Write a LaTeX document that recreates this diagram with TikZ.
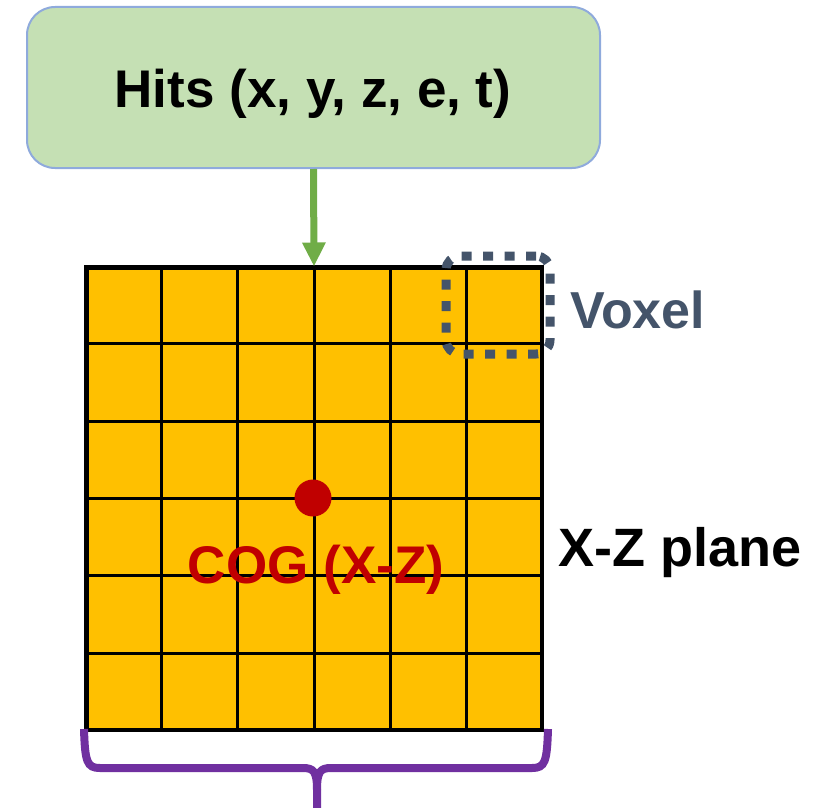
\documentclass[tikz,border=0pt]{standalone}
\usepackage{fontspec}
\setmainfont{Liberation Sans}
\usetikzlibrary{calc,arrows.meta}
\definecolor{boxgreen}{HTML}{C5E0B4}
\definecolor{boxblue}{HTML}{8FAADC}
\definecolor{arrgreen}{HTML}{70AD47}
\definecolor{gridfill}{HTML}{FFC000}
\definecolor{slate}{HTML}{44546A}
\definecolor{cogred}{HTML}{C00000}
\definecolor{bracepurple}{HTML}{7030A0}
\begin{document}
\begin{tikzpicture}[x=1pt,y=-1pt,
  lbl/.style={font=\fontsize{53}{60}\selectfont\bfseries, inner sep=0},
  hitsbox/.style={draw=boxblue, line width=2, fill=boxgreen, rounded corners=28, minimum width=573, minimum height=161, inner sep=0},
  gridbox/.style={draw=black, line width=3, fill=gridfill, minimum width=454, minimum height=461, inner sep=0},
  gridline/.style={draw=black, line width=3},
  voxelbox/.style={draw=slate, line width=9, dash pattern=on 10pt off 11.5pt, rounded corners=14, minimum width=104, minimum height=98, inner sep=0},
  bracepath/.style={draw=bracepurple, line width=8, line cap=butt}
]
\useasboundingbox (0,0) rectangle (814,808);
% Hits box
\node[hitsbox] (hits) at (313.5,87.5) {};
\node[lbl, anchor=base] (hitstxt) at (313,107) {Hits (x, y, z, e, t)};
% Grid
\node[gridbox] (grid) at (314,498.5) {};
\foreach \i in {1,...,5}{
  \draw[gridline] ($(grid.north west)!\i/6!(grid.north east)$) -- ($(grid.south west)!\i/6!(grid.south east)$);
  \draw[gridline] ($(grid.north west)!\i/6!(grid.south west)$) -- ($(grid.north east)!\i/6!(grid.south east)$);
}
\draw[gridline] (grid.north west) rectangle (grid.south east);
% Arrow
\draw[draw=arrgreen, line width=7, -{Triangle[width=22pt,length=24pt]}] (hits.south) -- (grid.north);
% Voxel
\node[voxelbox] (voxel) at (498,305) {};
\node[lbl, anchor=base west, text=slate, font=\fontsize{52}{60}\selectfont\bfseries] (voxeltxt) at (570,328) {Voxel};
% COG
\node[circle, fill=cogred, minimum size=37, inner sep=0] (cog) at (313,498) {};
\node[lbl, anchor=base, text=cogred] (cogtxt) at (316,583) {COG (X-Z)};
% Plane label
\node[lbl, anchor=base west, font=\fontsize{54}{60}\selectfont\bfseries] (planetxt) at (558,566) {X-Z plane};
% Brace
\coordinate (bl) at (84,729);
\coordinate (br) at (548,729);
\coordinate (bm) at (317,808);
\draw[bracepath] (bl) .. controls (85,762) and (87,768) .. (100,768) -- (303,768) .. controls (314,768) and (317,772) .. (317,790) -- (bm);
\draw[bracepath] (br) .. controls (547,762) and (545,768) .. (532,768) -- (331,768) .. controls (320,768) and (317,772) .. (317,790);
\end{tikzpicture}
\end{document}
